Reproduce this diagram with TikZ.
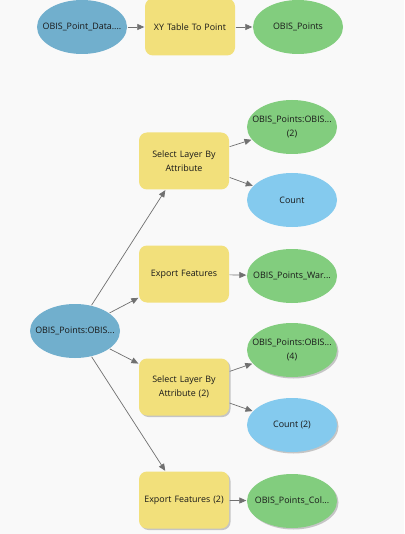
\documentclass[tikz,border=0pt]{standalone}
\usepackage{fontspec}
\setmainfont{Open Sans}
\usetikzlibrary{shapes.geometric,arrows.meta,shadows}
\definecolor{bgc}{HTML}{F9F9F9}
\definecolor{inblue}{HTML}{71AFCD}
\definecolor{toolyellow}{HTML}{F2E07B}
\definecolor{outgreen}{HTML}{82CD7E}
\definecolor{varblue}{HTML}{84CAEE}
\definecolor{linegray}{HTML}{707070}
\tikzset{
  base/.style={inner sep=0pt, align=center, font=\fontsize{8.9}{14}\selectfont, text=black!90},
  ell/.style={ellipse, inner sep=0pt, minimum width=90pt, minimum height=54pt, label={[base]center:#1}},
  inp/.style={ell={#1}, fill=inblue},
  outp/.style={ell={#1}, fill=outgreen},
  varp/.style={ell={#1}, fill=varblue},
  toolbox/.style={base, rectangle, rounded corners=8pt, fill=toolyellow, minimum width=90pt, minimum height=57pt, text width=88pt},
  shad/.style={drop shadow={shadow xshift=1.5pt, shadow yshift=-1.5pt, opacity=0.35, fill=black!60}},
  conn/.style={draw=linegray, line width=0.7pt, -{Triangle[length=7pt,width=6pt]}, shorten >=0.5pt, shorten <=0.5pt}
}
\begin{document}
\begin{tikzpicture}[x=1pt,y=-1pt]
\useasboundingbox[fill=bgc] (0,0) rectangle (404,534);
% top row
\node[inp={OBIS\_Point\_Data....}] (src) at (82,27) {};
\node[toolbox] (xy) at (190,27) {XY Table To Point};
\node[outp={OBIS\_Points}] (pts) at (298,27) {};
% main input
\node[inp={OBIS\_Points:OBIS...}] (main) at (75,331) {};
% tools
\node[toolbox] (sla) at (184,161) {Select Layer By\\Attribute};
\node[toolbox] (ef) at (184,274) {Export Features};
\node[toolbox, shad] (sla2) at (184,387) {Select Layer By\\Attribute (2)};
\node[toolbox, shad] (ef2) at (184,500) {Export Features (2)};
% outputs
\node[outp={OBIS\_Points:OBIS...\\(2)}] (o2) at (292,127) {};
\node[varp={Count}] (cnt) at (292,200) {};
\node[outp={OBIS\_Points\_War...}] (war) at (292,276) {};
\node[outp={OBIS\_Points:OBIS...\\(4)}, shad] (o4) at (292,350) {};
\node[varp={Count (2)}, shad] (cnt2) at (292,425) {};
\node[outp={OBIS\_Points\_Col...}, shad] (col) at (292,501) {};
% connectors
\draw[conn] (src) -- (xy);
\draw[conn] (xy) -- (pts);
\draw[conn] (main) -- (sla);
\draw[conn] (main) -- (ef);
\draw[conn] (main) -- (sla2);
\draw[conn] (main) -- (ef2);
\draw[conn] (sla) -- (o2);
\draw[conn] (sla) -- (cnt);
\draw[conn] (ef) -- (war);
\draw[conn] (sla2) -- (o4);
\draw[conn] (sla2) -- (cnt2);
\draw[conn] (ef2) -- (col);
\end{tikzpicture}
\end{document}
